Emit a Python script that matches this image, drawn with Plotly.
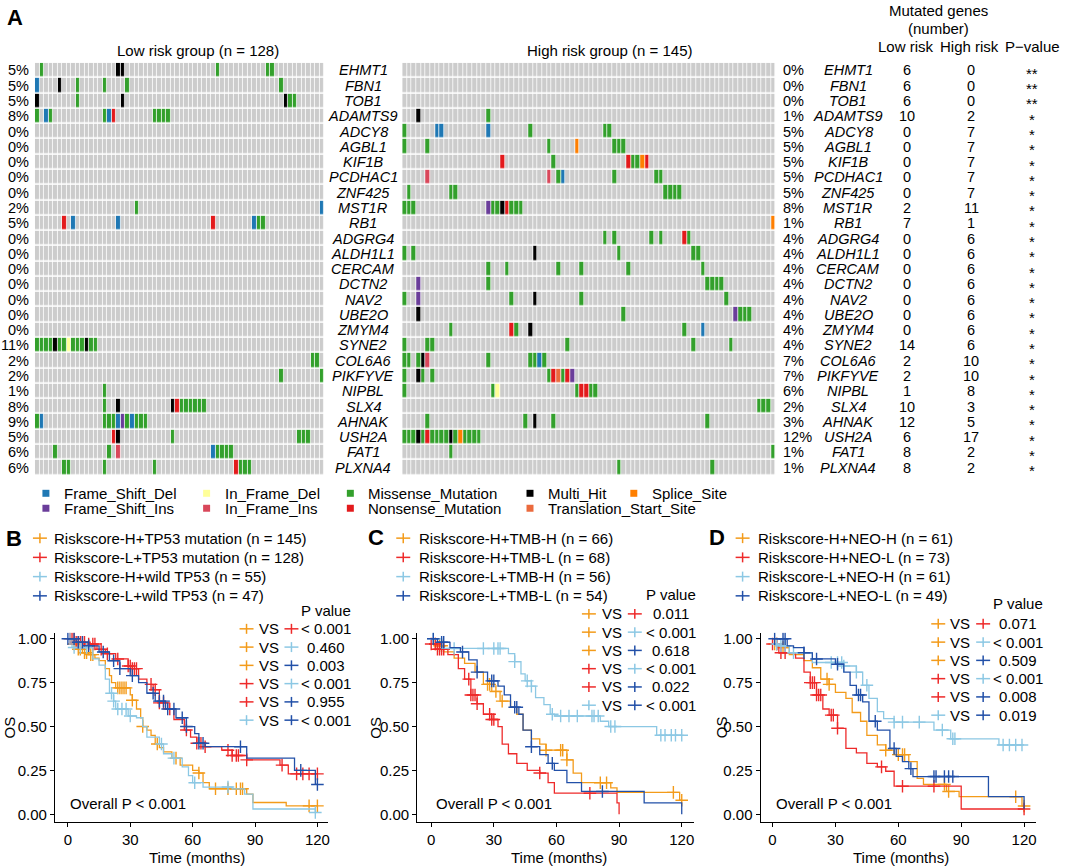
import plotly.graph_objects as go

W, H = 1065, 868
FONT = "Liberation Sans, Arial, Helvetica, sans-serif"

# -------------------------
# Panel A data (oncoprint)
# -------------------------
genes = ["EHMT1", "FBN1", "TOB1", "ADAMTS9", "ADCY8", "AGBL1", "KIF1B", "PCDHAC1",
         "ZNF425", "MST1R", "RB1", "ADGRG4", "ALDH1L1", "CERCAM", "DCTN2", "NAV2",
         "UBE2O", "ZMYM4", "SYNE2", "COL6A6", "PIKFYVE", "NIPBL", "SLX4", "AHNAK",
         "USH2A", "FAT1", "PLXNA4"]
low_pct = [5, 5, 5, 8, 0, 0, 0, 0, 0, 2, 5, 0, 0, 0, 0, 0, 0, 0, 11, 2, 2, 1, 8, 9, 5, 6, 6]
high_pct = [0, 0, 0, 1, 5, 5, 5, 5, 5, 8, 1, 4, 4, 4, 4, 4, 4, 4, 4, 7, 7, 6, 2, 3, 12, 1, 1]
low_count = [6, 6, 6, 10, 0, 0, 0, 0, 0, 2, 7, 0, 0, 0, 0, 0, 0, 0, 14, 2, 2, 1, 10, 12, 6, 8, 8]
high_count = [0, 0, 0, 2, 7, 7, 7, 7, 7, 11, 1, 6, 6, 6, 6, 6, 6, 6, 6, 10, 10, 8, 3, 5, 17, 2, 2]
p_stars = ["**", "**", "**"] + ["*"] * 24

n_low_samples = 64    # mutated samples shown, low risk
n_high_samples = 80   # mutated samples shown, high risk

mut_types = ["None", "Frame_Shift_Del", "Frame_Shift_Ins", "In_Frame_Del", "In_Frame_Ins",
             "Missense_Mutation", "Nonsense_Mutation", "Multi_Hit", "Splice_Site",
             "Translation_Start_Site"]
mut_colors = ["#CCCCCC", "#1F78B4", "#6A3D9A", "#FFFF99", "#D9475A",
              "#33A02C", "#E31A1C", "#000000", "#FF7F00", "#EB6A3D"]
mut_codes = {"D": 1, "I": 2, "d": 3, "i": 4, "M": 5, "N": 6, "H": 7, "S": 8, "T": 9}

# sample column + type letter, one string per gene
low_hits = [
    "1M 18H 19H 40M 51M 52M",
    "0D 5H 9M 15M 20M 54M",
    "0H 9M 19H 55H 56M 57M",
    "0M 2D 3M 15M 16D 17N 26M 27M 28M 29M",
    "", "", "", "", "",
    "22M 63D",
    "6N 8D 18D 39N 48D 49M 50M",
    "", "", "", "", "", "", "",
    "0M 1M 2M 3M 4H 5M 6M 7d 8M 9M 10M 11H 12M 13M",
    "61M 62M",
    "54M 63M",
    "15M",
    "15M 18H 30H 31N 32M 33M 34M 35M 36M 37M",
    "0M 1D 15M 16M 17M 18D 19I 20M 21D 22M 23M 24M",
    "17N 18H 30M 58M 59M 60M",
    "4M 16M 18i 39D 40M 41M 42M 43M",
    "6M 7M 15M 26M 44N 45M 46M 47M",
]
high_hits = [
    "", "", "",
    "3H 18M",
    "0M 7D 8D 18D 27M 43M 44M",
    "0M 5M 31M 37S 45M 46M 47M",
    "21N 32M 48N 49M 50M 51S 52N",
    "5i 31i 33M 34D 45M 54M 55M",
    "1M 10M 11M 56M 57M 58M 59M",
    "0M 1M 2M 18I 19M 20M 21H 22N 23M 24M 25M",
    "79S",
    "43M 45M 53M 55M 60N 61M",
    "0M 2M 28H 46M 62M 63M",
    "18M 22M 33M 38M 48M 64M",
    "3I 18M 65M 66M 67M 68M",
    "0M 3I 23M 28H 38M 69M",
    "3H 47M 71I 72M 73M 74M",
    "10M 23N 24M 27H 60M 64D",
    "0M 5M 6M 35M 62M 70M",
    "0M 1M 3M 4H 5i 18M 27M 28M 29D 30M",
    "0M 3H 4M 6M 31M 32N 33T 34M 35N 36I",
    "0M 19M 20d 37M 38N 39N 40M 41M",
    "76M 77M 78M",
    "5M 26M 28H 32M 65M",
    "0M 1M 2M 3H 4M 5N 6M 7M 8M 9M 10H 11M 12S 13M 14M 15M 16M",
    "10M 79M",
    "46M 66M",
]

# -------------------------
# Panels B-D data (Kaplan-Meier steps)
# -------------------------
km_colors = ["#F39B1A", "#EE2A2A", "#8CC8E4", "#2250A8"]

b_labels = ["Riskscore-H+TP53 mutation (n = 145)", "Riskscore-L+TP53 mutation (n = 128)",
            "Riskscore-H+wild TP53 (n = 55)", "Riskscore-L+wild TP53 (n = 47)"]
b_times = [
    [0, 2, 4, 7, 10, 13, 15, 18, 20, 21, 23, 30, 31, 33, 35, 36, 38, 40, 42, 44, 46, 50, 54, 60, 63, 65, 68, 86, 89, 105],
    [0, 4, 9, 14, 18, 23, 29, 31, 34, 38, 41, 44, 48, 51, 56, 59, 62, 66, 74, 79, 86, 102, 106],
    [0, 2, 12, 15, 18, 20, 22, 23, 29, 33, 36, 38, 44, 46, 50, 55, 58, 60, 65, 79, 85, 89, 119],
    [0, 4, 10, 15, 20, 25, 30, 34, 38, 42, 47, 52, 57, 61, 63, 66, 86, 109, 119],
]
b_surv = [
    [1.0, 0.97, 0.94, 0.92, 0.91, 0.89, 0.875, 0.83, 0.79, 0.75, 0.72, 0.68, 0.65, 0.60, 0.55, 0.50, 0.48, 0.45, 0.40, 0.38, 0.355, 0.32, 0.28, 0.25, 0.235, 0.18, 0.145, 0.115, 0.067, 0.048],
    [1.0, 0.98, 0.97, 0.94, 0.915, 0.885, 0.845, 0.83, 0.77, 0.74, 0.71, 0.635, 0.60, 0.54, 0.48, 0.44, 0.405, 0.385, 0.365, 0.335, 0.31, 0.28, 0.23],
    [1.0, 0.95, 0.885, 0.85, 0.77, 0.69, 0.645, 0.60, 0.56, 0.55, 0.50, 0.44, 0.40, 0.345, 0.32, 0.27, 0.22, 0.18, 0.155, 0.145, 0.115, 0.03, 0.01],
    [1.0, 0.98, 0.96, 0.925, 0.875, 0.83, 0.79, 0.75, 0.69, 0.645, 0.60, 0.55, 0.50, 0.46, 0.405, 0.385, 0.32, 0.25, 0.17],
]
b_end = [120, 120, 119, 120]
b_censor = [
    [3, 5, 6, 8, 9, 11, 12, 24, 25, 26, 27, 28, 31, 36, 43, 52, 63, 71, 77, 81, 83, 84, 116, 120],
    [1, 2, 3, 4, 5, 6, 7, 8, 10, 12, 13, 16, 19, 24, 29, 30, 31, 32, 33, 40, 42, 44, 46, 49, 57, 62, 64, 66, 77, 79, 81, 82, 86, 103, 110, 113, 116, 120],
    [1, 3, 6, 9, 21, 22, 24, 26, 28, 30, 45, 51, 61, 77, 119],
    [0, 3, 5, 7, 10, 17, 22, 25, 31, 41, 44, 46, 48, 51, 55, 57, 63, 65, 83, 112, 120],
]
b_pvals = ["< 0.001", "0.460", "0.003", "< 0.001", "0.955", "< 0.001"]

c_labels = ["Riskscore-H+TMB-H (n = 66)", "Riskscore-H+TMB-L (n = 68)",
            "Riskscore-L+TMB-H (n = 56)", "Riskscore-L+TMB-L (n = 54)"]
c_times = [
    [0, 3, 6, 11, 16, 21, 25, 29, 33, 38, 41, 44, 48, 52, 55, 65, 68, 72, 86, 89, 119],
    [0, 3, 8, 13, 16, 19, 22, 25, 29, 32, 34, 37, 41, 46, 52, 56, 59, 89, 90],
    [0, 5, 37, 40, 43, 45, 48, 50, 54, 57, 59, 81, 85, 108],
    [0, 3, 9, 14, 18, 22, 27, 32, 35, 38, 42, 44, 48, 52, 56, 59, 65, 72, 102, 120],
]
c_surv = [
    [0.97, 0.96, 0.925, 0.89, 0.86, 0.81, 0.74, 0.70, 0.645, 0.61, 0.57, 0.48, 0.43, 0.40, 0.365, 0.31, 0.235, 0.18, 0.15, 0.125, 0.08],
    [0.97, 0.94, 0.91, 0.83, 0.77, 0.68, 0.63, 0.57, 0.54, 0.50, 0.40, 0.345, 0.29, 0.25, 0.235, 0.18, 0.12, 0.065, 0.0],
    [1.0, 0.945, 0.915, 0.87, 0.80, 0.76, 0.73, 0.665, 0.625, 0.57, 0.56, 0.53, 0.50, 0.45],
    [1.0, 0.98, 0.95, 0.925, 0.88, 0.81, 0.76, 0.73, 0.68, 0.61, 0.57, 0.48, 0.385, 0.34, 0.29, 0.25, 0.18, 0.13, 0.065, 0.0],
]
c_end = [120, 90, 121, 120]
c_censor = [
    [2, 4, 5, 27, 28, 31, 34, 55, 62, 63, 65, 81, 84, 116, 120],
    [0, 2, 3, 4, 5, 6, 18, 19, 20, 21, 22, 28, 29, 30, 52, 76],
    [1, 11, 25, 30, 32, 33, 40, 46, 48, 58, 62, 66, 70, 77, 78, 80, 86, 88, 110, 112, 115, 117, 120],
    [1, 5, 6, 15, 22, 29, 30, 40, 41, 48, 58, 82],
]
c_pvals = ["0.011", "< 0.001", "0.618", "< 0.001", "0.022", "< 0.001"]

d_labels = ["Riskscore-H+NEO-H (n = 61)", "Riskscore-H+NEO-L (n = 73)",
            "Riskscore-L+NEO-H (n = 61)", "Riskscore-L+NEO-L (n = 49)"]
d_times = [
    [0, 3, 8, 15, 19, 23, 27, 30, 35, 38, 42, 45, 50, 54, 58, 65, 69, 72, 83, 89, 119],
    [0, 3, 11, 15, 18, 21, 24, 27, 31, 35, 40, 45, 50, 54, 58, 90],
    [0, 3, 8, 19, 34, 40, 43, 46, 50, 53, 58, 77, 85, 108],
    [0, 7, 10, 15, 19, 30, 34, 37, 40, 43, 46, 50, 56, 59, 62, 65, 67, 103, 120],
]
d_surv = [
    [0.97, 0.95, 0.91, 0.875, 0.835, 0.77, 0.74, 0.695, 0.66, 0.58, 0.53, 0.45, 0.395, 0.365, 0.34, 0.30, 0.205, 0.17, 0.13, 0.10, 0.047],
    [0.97, 0.92, 0.89, 0.81, 0.75, 0.68, 0.60, 0.565, 0.49, 0.375, 0.35, 0.29, 0.27, 0.245, 0.16, 0.03],
    [0.97, 0.96, 0.92, 0.865, 0.845, 0.81, 0.735, 0.66, 0.585, 0.545, 0.525, 0.48, 0.43, 0.395],
    [1.0, 0.96, 0.95, 0.92, 0.885, 0.855, 0.81, 0.735, 0.68, 0.64, 0.53, 0.48, 0.375, 0.33, 0.30, 0.26, 0.215, 0.10, 0.03],
]
d_end = [120, 120, 120, 120]
d_censor = [
    [1, 2, 5, 26, 27, 54, 60, 62, 63, 82, 84, 116, 120],
    [0, 2, 4, 6, 18, 19, 20, 21, 22, 23, 28, 29, 31, 52, 62, 77, 120],
    [2, 4, 6, 10, 28, 31, 33, 34, 40, 45, 58, 62, 70, 81, 86, 87, 110, 113, 116, 119],
    [1, 5, 6, 15, 21, 31, 41, 42, 49, 58, 66, 77, 78, 82, 84, 86],
]
d_pvals = ["0.071", "< 0.001", "0.509", "< 0.001", "0.008", "0.019"]

# pairs compared in the P value tables (indices into the 4 groups)
pairs = [(0, 1), (0, 2), (0, 3), (1, 2), (1, 3), (2, 3)]


def px(x):
    return x / W


def py(y):
    return 1 - y / H


annotations = []
shapes = []


def text(x, y, s, size=15, anchor="center", **kw):
    annotations.append(dict(x=px(x), y=py(y), xref="paper", yref="paper", text=s,
                            showarrow=False, xanchor=anchor, yanchor="middle",
                            font=dict(size=size, family=FONT, color="black"), **kw))


def row_text(x, row, s, size=14.5, anchor="center", yshift=0):
    annotations.append(dict(x=px(x), y=row, xref="paper", yref="y", text=s,
                            showarrow=False, xanchor=anchor, yanchor="middle",
                            yshift=yshift,
                            font=dict(size=size, family=FONT, color="black")))


def key(xc, yc, color):
    # legend key of the survival plots: short line with a "+"
    shapes.append(dict(type="line", xref="paper", yref="paper", x0=px(xc - 7), x1=px(xc + 7),
                       y0=py(yc), y1=py(yc), line=dict(color=color, width=1.5)))
    shapes.append(dict(type="line", xref="paper", yref="paper", x0=px(xc), x1=px(xc),
                       y0=py(yc - 5), y1=py(yc + 5), line=dict(color=color, width=1.5)))


def build_matrix(hits, ncol):
    z = [[0] * ncol for _ in genes]
    for r, s in enumerate(hits):
        for tok in s.split():
            z[r][int(tok[:-1])] = mut_codes[tok[-1]]
    return z


n_types = len(mut_colors)
colorscale = []
for k, c in enumerate(mut_colors):
    colorscale.append([k / n_types, c])
    colorscale.append([(k + 1) / n_types, c])

fig = go.Figure()

for hits, ncol, xa, ya in [(low_hits, n_low_samples, "x", "y"),
                           (high_hits, n_high_samples, "x2", "y2")]:
    fig.add_trace(go.Heatmap(
        z=build_matrix(hits, ncol), x=list(range(ncol)), y=list(range(len(genes))),
        colorscale=colorscale, zmin=-0.5, zmax=n_types - 0.5, showscale=False,
        xgap=0.8, ygap=1.6, hoverinfo="skip", xaxis=xa, yaxis=ya))

# row texts of panel A
for i, g in enumerate(genes):
    row_text(31, i, f"{low_pct[i]}%", anchor="right")
    row_text(364, i, f"<i>{g}</i>")
    row_text(782, i, f"{high_pct[i]}%", anchor="left")
    row_text(850, i, f"<i>{g}</i>")
    row_text(909, i, str(low_count[i]))
    row_text(973, i, str(high_count[i]))
    row_text(1034, i, p_stars[i], size=15, yshift=-3)

text(15, 15, "<b>A</b>", size=22)
text(198, 48, "Low risk group (n = 128)")
text(611, 48, "High risk group (n = 145)")
text(940, 8, "Mutated genes")
text(940, 26, "(number)")
text(908, 44, "Low risk")
text(971, 44, "High risk")
text(1064, 44, "P\u2212value", anchor="right")

# mutation type legend
legend_x = [46, 207, 351, 531, 635]
legend_rows = [["Frame_Shift_Del", "In_Frame_Del", "Missense_Mutation", "Multi_Hit", "Splice_Site"],
               ["Frame_Shift_Ins", "In_Frame_Ins", "Nonsense_Mutation", "Translation_Start_Site"]]
for r, names in enumerate(legend_rows):
    yy = 492 + 15 * r
    for j, name in enumerate(names):
        c = mut_colors[mut_types.index(name)]
        xx = legend_x[j]
        shapes.append(dict(type="rect", xref="paper", yref="paper", x0=px(xx - 3.5), x1=px(xx + 3.5),
                           y0=py(yy + 3.5), y1=py(yy - 3.5), line=dict(width=0), fillcolor=c))
        text(xx + 16, yy, name, anchor="left")


# -------------------------
# Survival panels
# -------------------------
def step_value(t, s, c):
    v = s[0]
    for ti, si in zip(t, s):
        if ti <= c:
            v = si
    return v


panels = [
    dict(letter="B", labels=b_labels, times=b_times, surv=b_surv, end=b_end, censor=b_censor,
         pvals=b_pvals, xa="x3", ya="y3", lab=(14, 537), key_x=40, text_x=52, leg_y=537,
         pv_y=610, row_y=628, cols=(247, 270, 292, 327), os_x=10, time_x=197, overall_x=68,
         xdom=(55, 329), xrange=(-6.24, 125.28)),
    dict(letter="C", labels=c_labels, times=c_times, surv=c_surv, end=c_end, censor=c_censor,
         pvals=c_pvals, xa="x4", ya="y4", lab=(377, 536), key_x=404, text_x=418, leg_y=537,
         pv_y=594, row_y=613, cols=(590, 613, 636, 672), os_x=376, time_x=560, overall_x=435,
         xdom=(418, 695), xrange=(-6.69, 125.73)),
    dict(letter="D", labels=d_labels, times=d_times, surv=d_surv, end=d_end, censor=d_censor,
         pvals=d_pvals, xa="x5", ya="y5", lab=(718, 536), key_x=744, text_x=757, leg_y=537,
         pv_y=603, row_y=623, cols=(940, 962, 985, 1020), os_x=723, time_x=903, overall_x=775,
         xdom=(762, 1038), xrange=(-5.71, 125.71)),
]

for p in panels:
    for k in range(4):
        t, s = p["times"][k], p["surv"][k]
        col = km_colors[k]
        fig.add_trace(go.Scatter(
            x=t + [p["end"][k]], y=s + [s[-1]], mode="lines", line_shape="hv",
            line=dict(color=col, width=1.3), xaxis=p["xa"], yaxis=p["ya"],
            showlegend=False, hoverinfo="skip"))
        cens = p["censor"][k]
        fig.add_trace(go.Scatter(
            x=cens, y=[step_value(t, s, c) for c in cens], mode="markers",
            marker=dict(symbol="cross-thin", size=9, line=dict(color=col, width=1.4)),
            xaxis=p["xa"], yaxis=p["ya"], showlegend=False, hoverinfo="skip"))

    text(p["lab"][0], p["lab"][1], f"<b>{p['letter']}</b>", size=22)
    for k, lab in enumerate(p["labels"]):
        yy = p["leg_y"] + 19.3 * k
        key(p["key_x"], yy, km_colors[k])
        text(p["text_x"], yy, lab, anchor="left")

    k1x, vsx, k2x, vx = p["cols"]
    text(vx, p["pv_y"], "P value")
    for r, (a, b) in enumerate(pairs):
        yy = p["row_y"] + 18.33 * r
        key(k1x, yy, km_colors[a])
        text(vsx, yy, "VS")
        key(k2x, yy, km_colors[b])
        text(vx, yy, p["pvals"][r])

    text(p["overall_x"], 803, "Overall P < 0.001", anchor="left")
    text(p["time_x"], 857, "Time (months)")
    text(p["os_x"], 727, "OS", textangle=-90)

# -------------------------
# Layout
# -------------------------
hm_y = [py(474), py(60)]
layout = dict(
    width=W, height=H, margin=dict(l=0, r=0, t=0, b=0),
    paper_bgcolor="white", plot_bgcolor="white", showlegend=False,
    font=dict(family=FONT, color="black"),
    xaxis=dict(domain=[px(35), px(325)], range=[-0.5, n_low_samples - 0.5], visible=False),
    yaxis=dict(domain=hm_y, range=[len(genes) - 0.5, -0.5], visible=False),
    xaxis2=dict(domain=[px(403), px(777)], range=[-0.5, n_high_samples - 0.5], visible=False),
    yaxis2=dict(domain=hm_y, range=[len(genes) - 0.5, -0.5], visible=False),
    annotations=annotations, shapes=shapes,
)

axis_common = dict(showline=True, linecolor="black", linewidth=1, ticks="outside", ticklen=4,
                   tickwidth=1, tickcolor="black", showgrid=False, zeroline=False,
                   tickfont=dict(size=15, family=FONT, color="black"), fixedrange=True)
for i, p in enumerate(panels):
    n = i + 3
    layout[f"xaxis{n}"] = dict(domain=[px(p["xdom"][0]), px(p["xdom"][1])], range=list(p["xrange"]),
                               tickvals=[0, 30, 60, 90, 120], anchor=f"y{n}", **axis_common)
    layout[f"yaxis{n}"] = dict(domain=[py(822), py(632)], range=[-0.045, 1.034],
                               tickvals=[0, 0.25, 0.5, 0.75, 1.0],
                               ticktext=["0.00", "0.25", "0.50", "0.75", "1.00"],
                               anchor=f"x{n}", **axis_common)

fig.update_layout(**layout)

# drop the page's default body margin so the figure fills the window, no mode bar
fig.write_html("out.html", config={"displayModeBar": False},
               post_script="document.body.style.margin = '0px';")
